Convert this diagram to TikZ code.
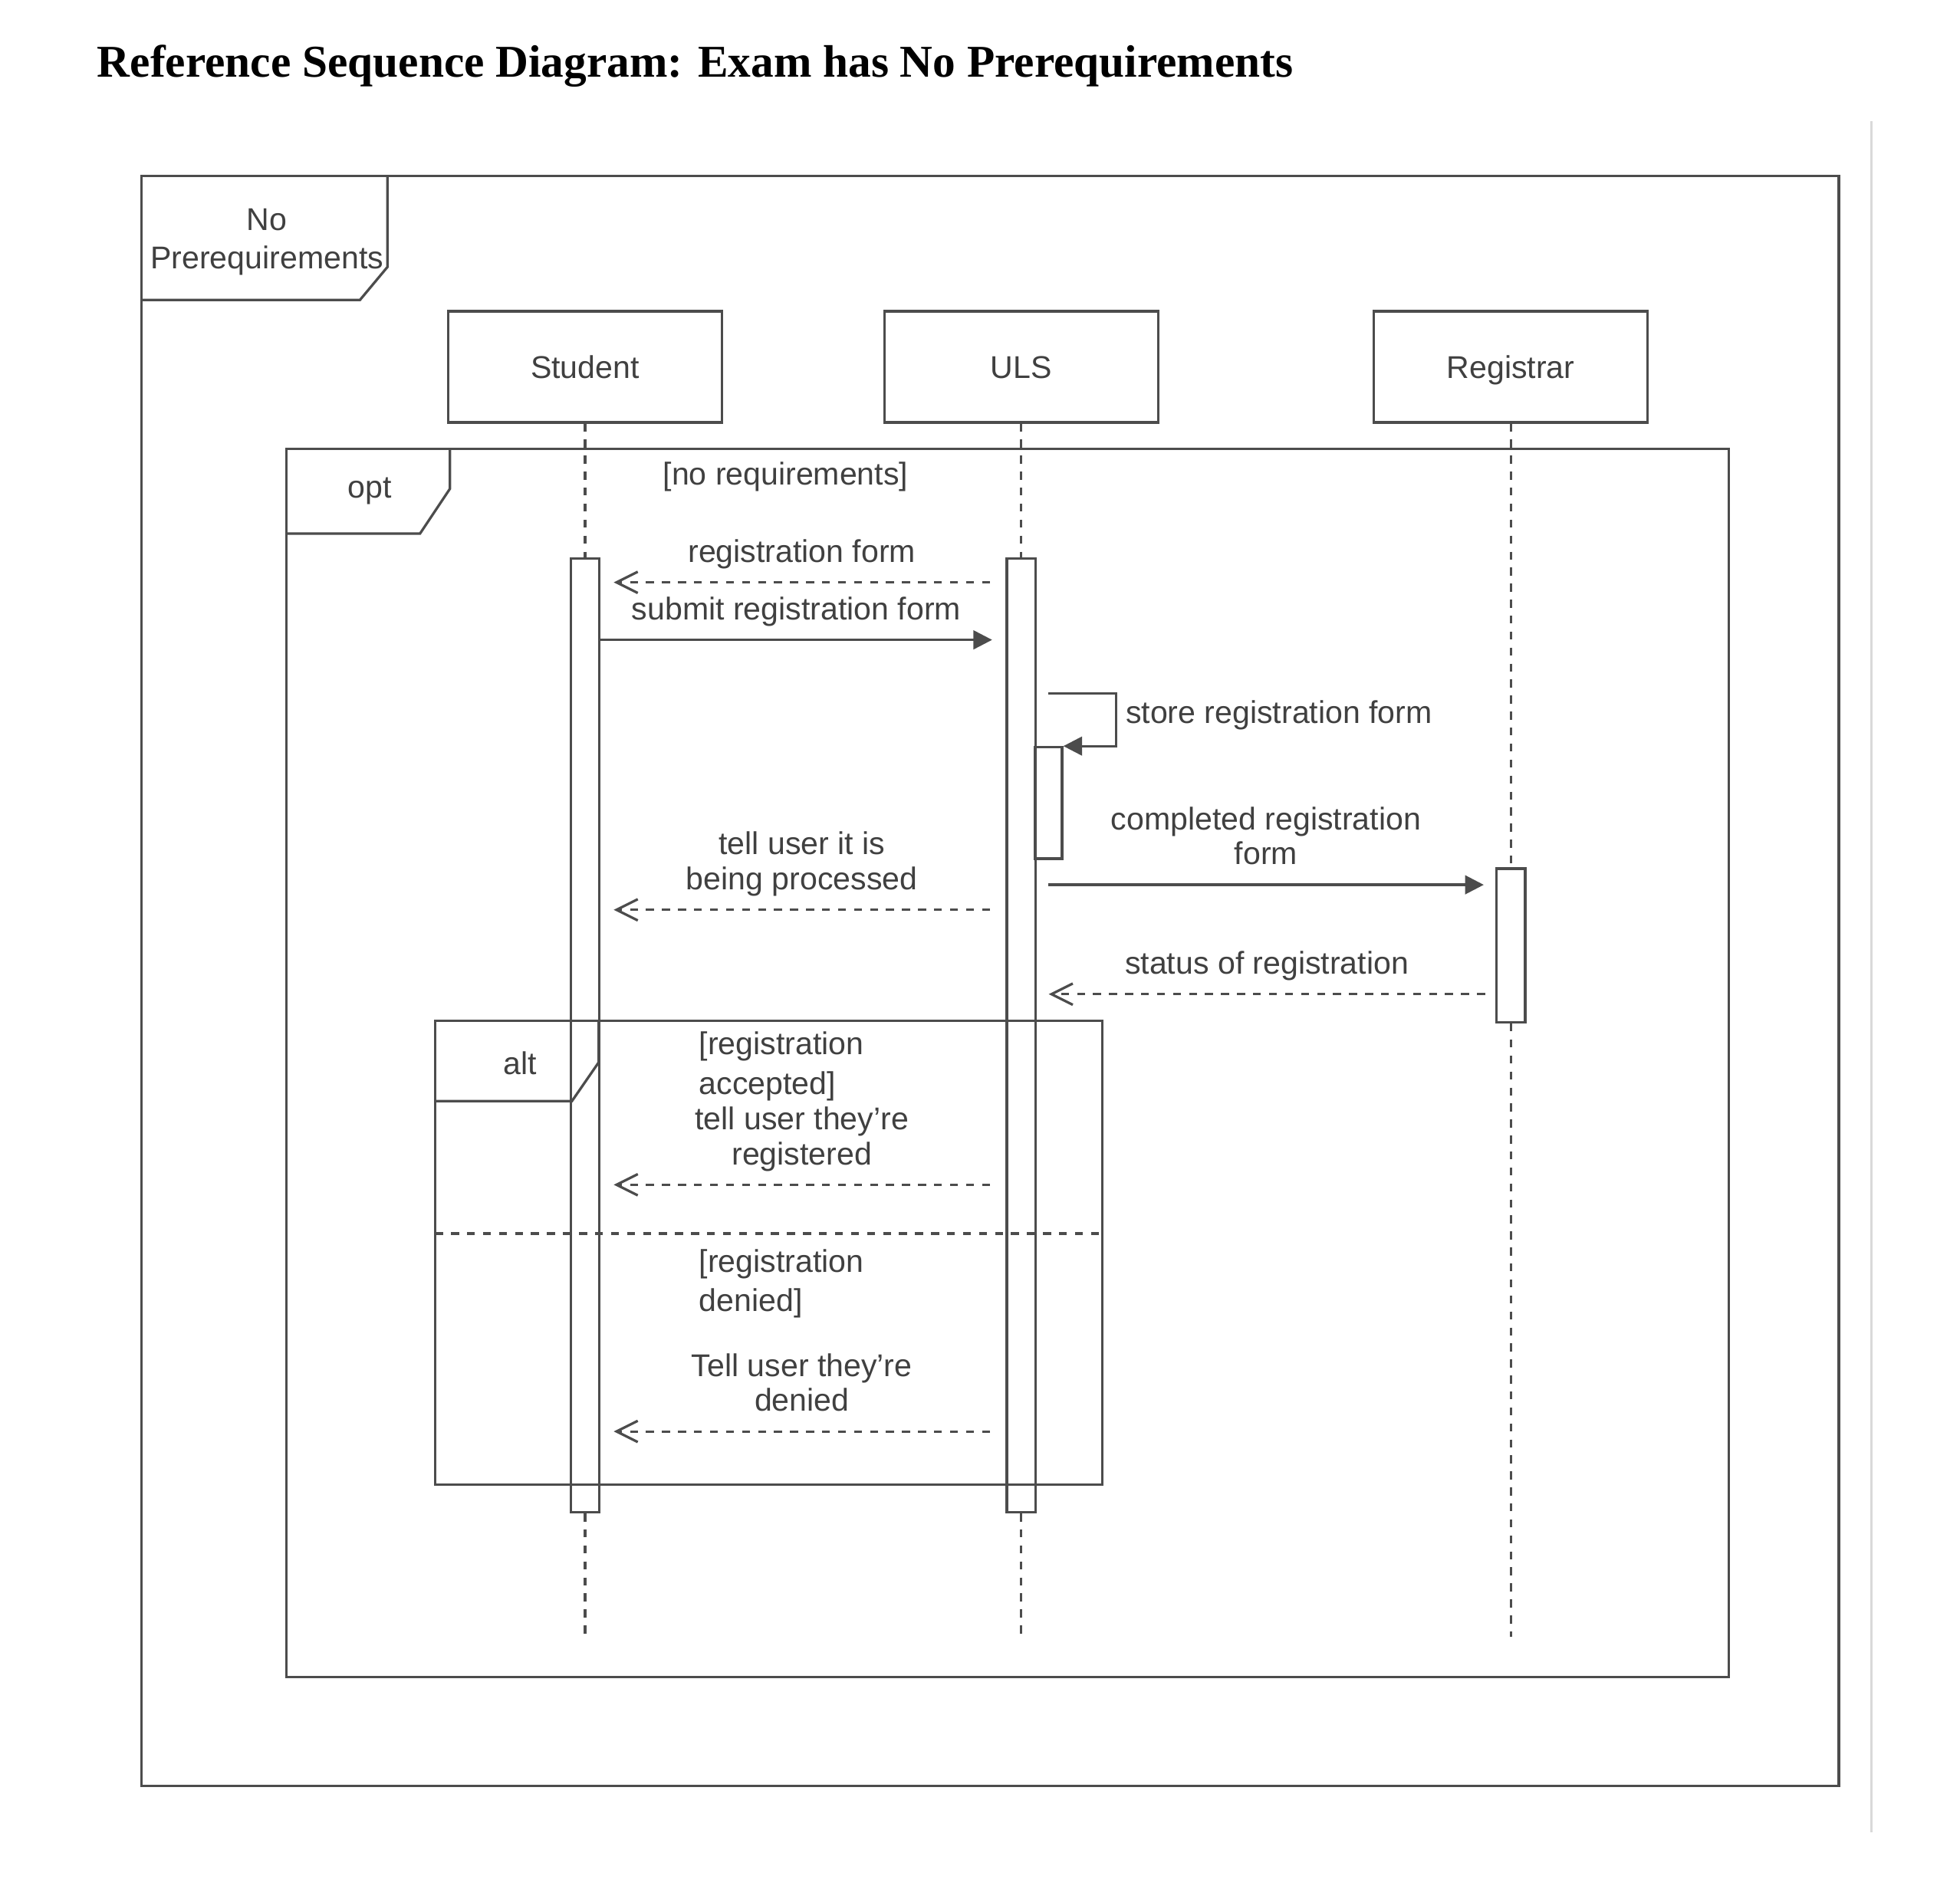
\documentclass[tikz,border=0pt]{standalone}
\usepackage{fontspec}
\setmainfont{Liberation Sans}
\newfontfamily\titlefont{Liberation Serif}
\usetikzlibrary{arrows.meta}
\usetikzlibrary{positioning}
\tikzset{>=latex}

\begin{document}
\begin{tikzpicture}[x=0.5pt, y=-0.5pt,
	every node/.style={text=black!75, font=\fontsize{12.6}{14}\selectfont},
	actor/.style={rectangle, draw=black!70, line width=1pt, minimum width=109.5pt, minimum height=44.5pt, inner sep=0pt, text height=9pt, text depth=0pt},
	act/.style={rectangle, draw=black!70, line width=1pt, minimum width=11.5pt, inner sep=0pt},
	frm/.style={draw=black!70, line width=1pt},
	life/.style={draw=black!70, line width=1pt, dash pattern=on 3.2pt off 3.2pt},
	call/.style={draw=black!70, line width=1pt, -{Triangle[length=7.5pt,width=7.5pt]}},
	reply/.style={draw=black!70, line width=1pt, dash pattern=on 3.2pt off 3.2pt, -{Straight Barb[length=8.5pt,width=8.5pt]}},
	guard/.style={anchor=base west, inner sep=0pt, font=\fontsize{12.6}{15.75}\selectfont},
	node distance=174.5pt, on grid]
	\useasboundingbox (0,0) rectangle (1568,1519);

	\node[anchor=base west, inner sep=0pt, text=black, font=\titlefont\fontsize{18.2}{20}\selectfont\bfseries] (title) at (77.5,61.6) {Reference Sequence Diagram: Exam has No Prerequirements};
	\draw[black!15, line width=1pt] (1497,97) -- (1497,1466);

	% frames
	\draw[frm] (113,141) rectangle (1471,1429);
	\draw[frm] (113,240) -- (288,240) -- (310,213.6) -- (310,141);
	\node[font=\fontsize{12.6}{15.35}\selectfont] (sdname) at (213.6,193.3) {\begin{tabular}{c}No\\Prerequirements\end{tabular}};

	\draw[frm] (229,359) rectangle (1383,1342);
	\draw[frm] (229,427) -- (336,427) -- (360,391) -- (360,359);
	\node (opt) at (296,393) {opt};

	\draw[frm] (348,817) rectangle (882,1188);
	\draw[frm] (348,881) -- (457.6,881) -- (479,850) -- (479,817);
	\node (alt) at (416,851) {alt};
	\draw[life] (348,987) -- (882,987);

	% lifelines
	\node[actor] (student) at (468,293.5) {Student};
	\node[actor, right=of student] (uls) {ULS};
	\node[actor, right=195.8pt of uls] (registrar) {Registrar};

	\node[act, minimum height=381.5pt] (stuact) at (student |- 0,828.5) {};
	\node[act, minimum height=381.5pt] (ulsact) at (uls |- 0,828.5) {};
	\node[act, minimum width=11pt, minimum height=44.5pt] (ulsself) at (838.7,642.5) {};
	\node[act, minimum height=61.5pt] (regact) at (registrar |- 0,756.5) {};

	\coordinate (stuend) at (student |- 0,1310);
	\coordinate (ulsend) at (uls |- 0,1310);
	\coordinate (regend) at (registrar |- 0,1310);
	\draw[life] (student.south) -- (stuact.north);
	\draw[life] (stuact.south) -- (stuend);
	\draw[life] (uls.south) -- (ulsact.north);
	\draw[life] (ulsact.south) -- (ulsend);
	\draw[life] (registrar.south) -- (regact.north);
	\draw[life] (regact.south) -- (regend);

	% guards
	\node[guard] (noreq) at (530,388) {[no requirements]};
	\node[guard] (accepted) at (559,844) {\begin{tabular}[t]{@{}l@{}}[registration\\accepted]\end{tabular}};
	\node[guard] (denied) at (559,1018) {\begin{tabular}[t]{@{}l@{}}[registration\\denied]\end{tabular}};

	% messages
	\coordinate (m1s) at (792,466);
	\coordinate (m1e) at (491,466);
	\coordinate (m2e) at (793.7,512);
	\coordinate (m3s) at (838.6,555);
	\coordinate (m4s) at (792,728);
	\coordinate (m4e) at (491,728);
	\coordinate (m5s) at (838.6,708);
	\coordinate (m5e) at (1187,708);
	\coordinate (m6s) at (1188,795.5);
	\coordinate (m6e) at (839,795.5);
	\coordinate (m7s) at (792,948);
	\coordinate (m7e) at (491,948);
	\coordinate (m8s) at (792,1145.4);
	\coordinate (m8e) at (491,1145.4);

	\draw[reply] (m1s) -- node[above]{\begin{tabular}{c}registration form\end{tabular}} (m1e);
	\draw[call] (stuact.east |- m2e) -- node[above]{\begin{tabular}{c}submit registration form\end{tabular}} (m2e);
	\draw[call] (m3s) -- ++(54.4,0) |- node[pos=0.25, right, yshift=1.5pt]{\begin{tabular}{@{}l}store registration form\end{tabular}} (ulsself.north east);
	\draw[reply] (m4s) -- node[above]{\begin{tabular}{c}tell user it is\\being processed\end{tabular}} (m4e);
	\draw[call] (m5s) -- node[above]{\begin{tabular}{c}completed registration\\form\end{tabular}} (m5e);
	\draw[reply] (m6s) -- node[above]{\begin{tabular}{c}status of registration\end{tabular}} (m6e);
	\draw[reply] (m7s) -- node[above]{\begin{tabular}{c}tell user they're\\registered\end{tabular}} (m7e);
	\draw[reply] (m8s) -- node[above]{\begin{tabular}{c}Tell user they're\\denied\end{tabular}} (m8e);
\end{tikzpicture}
\end{document}
